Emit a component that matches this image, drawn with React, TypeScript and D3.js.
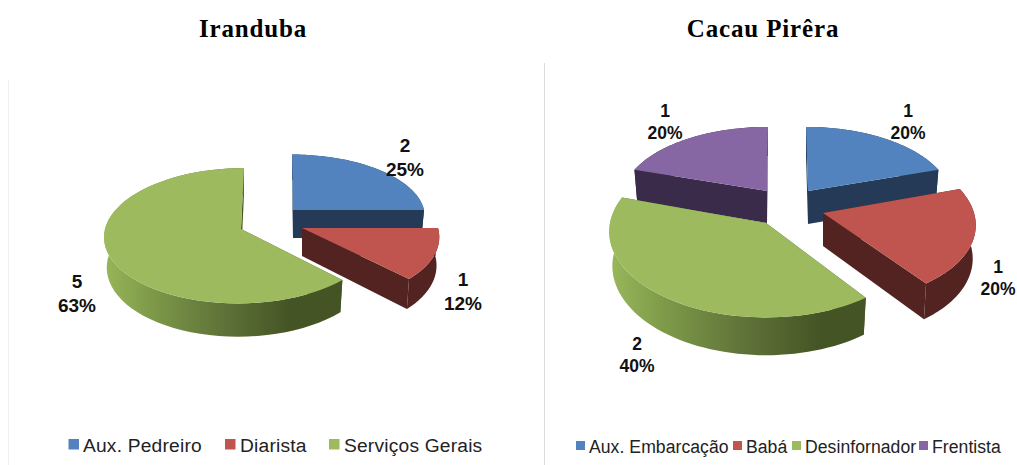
import React from "react";
import * as d3 from "d3";

// ---- data ----
const leftTitle = "Iranduba";
const leftCategories = ["Aux. Pedreiro", "Diarista", "Serviços Gerais"];
const leftCounts = [2, 1, 5];
const leftPercents = ["25%", "12%", "63%"];

const rightTitle = "Cacau Pirêra";
const rightCategories = ["Aux. Embarcação", "Babá", "Desinfornador", "Frentista"];
const rightCounts = [1, 1, 2, 1];
const rightPercents = ["20%", "20%", "40%", "20%"];

const topColors = ["#5383BE", "#C0544F", "#9DBB5E", "#8667A3"];
const wallColors = ["#243A56", "#522320", "url(#GRAD)", "#3A2B4A"];

// ---- layout ----
type Geo = { ax: number; ay: number; R: number; kR: number; d: number; sk: number };
const P = 0.1;
const DROP_X = 0.98;

const leftGeo: Geo[] = [
  { ax: 293, ay: 210, R: 131, kR: 61, d: 28, sk: -1 },
  { ax: 302, ay: 228, R: 136, kR: 67, d: 28, sk: -5 },
  { ax: 241, ay: 229, R: 136, kR: 67, d: 30, sk: 3 },
];
const leftLabels = [
  [405, 152, 176],
  [463, 286, 310],
  [77, 288, 312],
];
const leftFont = 19;
const leftLegend = { swatch: 10.5, y: 439, base: 452, font: 19.2, ls: 0.2, sw: [68.5, 225, 329], tx: [83, 240, 344] };

const rightGeo: Geo[] = [
  { ax: 808, ay: 191, R: 142, kR: 70.5, d: 33, sk: -2 },
  { ax: 823, ay: 213, R: 151, kR: 80, d: 33, sk: -8 },
  { ax: 766, ay: 223, R: 156, kR: 85, d: 34, sk: 0 },
  { ax: 767, ay: 191, R: 144, kR: 70.5, d: 32, sk: 1 },
];
const rightLabels = [
  [908, 117, 139],
  [998, 273, 295],
  [637, 350, 372],
  [665, 117, 139],
];
const rightFont = 17.5;
const rightLegend = { swatch: 9, y: 441, base: 453, font: 17.6, ls: 0.05, sw: [576, 733, 792, 919], tx: [589, 746, 805, 932] };

function project(g: Geo, t: number, r: number, drop: boolean): [number, number] {
  const u = Math.sin(t) * r;
  const v = Math.cos(t) * r;
  const s = 1 / (1 + P * v);
  const x = g.R * u * s + g.sk * v;
  return [g.ax + (drop ? x * DROP_X : x), g.ay - g.kR * v * s + (drop ? g.d * s : 0)];
}

const linePath = d3.line<[number, number]>();

function Pie3D({ id, counts, percents, geo, labels, font, order, grad }: {
  id: string; counts: number[]; percents: string[]; geo: Geo[]; labels: number[][];
  font: number; order: number[]; grad: [number, number];
}) {
  const arcs = d3.pie<number>().sort(null)(counts);
  const sample = (a0: number, a1: number) => d3.range(0, 61).map((i) => a0 + ((a1 - a0) * i) / 60);
  return (
    <g>
      <defs>
        <linearGradient id={id} gradientUnits="userSpaceOnUse" x1={grad[0]} x2={grad[1]} y1={0} y2={0}>
          <stop offset="0" stopColor="#98B65A" />
          <stop offset="0.25" stopColor="#7E9A49" />
          <stop offset="0.6" stopColor="#62763A" />
          <stop offset="1" stopColor="#455425" />
        </linearGradient>
      </defs>
      {order.map((i) => {
        const a = arcs[i];
        const g = geo[i];
        const ts = sample(a.startAngle, a.endAngle);
        const topRim = ts.map((t) => project(g, t, 1, false));
        const lowRim = ts.map((t) => project(g, t, 1, true)).reverse();
        const apex = project(g, 0, 0, false);
        const apexLow = project(g, 0, 0, true);
        const first = topRim[0];
        const last = topRim[topRim.length - 1];
        const firstLow = project(g, a.startAngle, 1, true);
        const lastLow = project(g, a.endAngle, 1, true);
        const fill = wallColors[i].replace("GRAD", id);
        const faceFill = wallColors[i].startsWith("url") ? "#455425" : wallColors[i];
        return (
          <g key={i}>
            <path d={linePath([apex, first, firstLow, apexLow])! + "Z"} fill={faceFill} />
            <path d={linePath([apex, last, lastLow, apexLow])! + "Z"} fill={faceFill} />
            <path d={linePath([...topRim, ...lowRim])! + "Z"} fill={fill} />
            <path d={linePath([apex, ...topRim])! + "Z"} fill={topColors[i]} />
          </g>
        );
      })}
      {labels.map((l, i) => (
        <text key={i} textAnchor="middle" fontFamily="Liberation Sans" fontWeight="bold" fontSize={font} fill="#111">
          <tspan x={l[0]} y={l[1]}>{counts[i]}</tspan>
          <tspan x={l[0]} y={l[2]}>{percents[i]}</tspan>
        </text>
      ))}
    </g>
  );
}

function Legend({ cats, cfg }: { cats: string[]; cfg: { swatch: number; y: number; base: number; font: number; ls: number; sw: number[]; tx: number[] } }) {
  return (
    <g>
      {cats.map((c, i) => (
        <g key={c}>
          <rect x={cfg.sw[i]} y={cfg.y} width={cfg.swatch} height={cfg.swatch} fill={topColors[i]} />
          <text x={cfg.tx[i]} y={cfg.base} fontFamily="Liberation Sans" fontSize={cfg.font} letterSpacing={cfg.ls} fill="#222">{c}</text>
        </g>
      ))}
    </g>
  );
}

export default function App() {
  return (
    <svg width={1017} height={465} style={{ position: "absolute", left: 0, top: 0, display: "block", background: "#fff" }}>
      <line x1={8.5} x2={8.5} y1={80} y2={465} stroke="#F0F0F0" />
      <line x1={544.5} x2={544.5} y1={63} y2={465} stroke="#DCDCDC" />
      <text x={253} y={37} textAnchor="middle" fontFamily="Liberation Serif" fontWeight="bold" fontSize={25} letterSpacing={0.85} fill="#000">{leftTitle}</text>
      <text x={763} y={37} textAnchor="middle" fontFamily="Liberation Serif" fontWeight="bold" fontSize={25} letterSpacing={0.85} fill="#000">{rightTitle}</text>
      <Pie3D id="gl" counts={leftCounts} percents={leftPercents} geo={leftGeo} labels={leftLabels} font={leftFont} order={[0, 1, 2]} grad={[104, 290]} />
      <Pie3D id="gr" counts={rightCounts} percents={rightPercents} geo={rightGeo} labels={rightLabels} font={rightFont} order={[0, 3, 1, 2]} grad={[612, 820]} />
      <Legend cats={leftCategories} cfg={leftLegend} />
      <Legend cats={rightCategories} cfg={rightLegend} />
    </svg>
  );
}
